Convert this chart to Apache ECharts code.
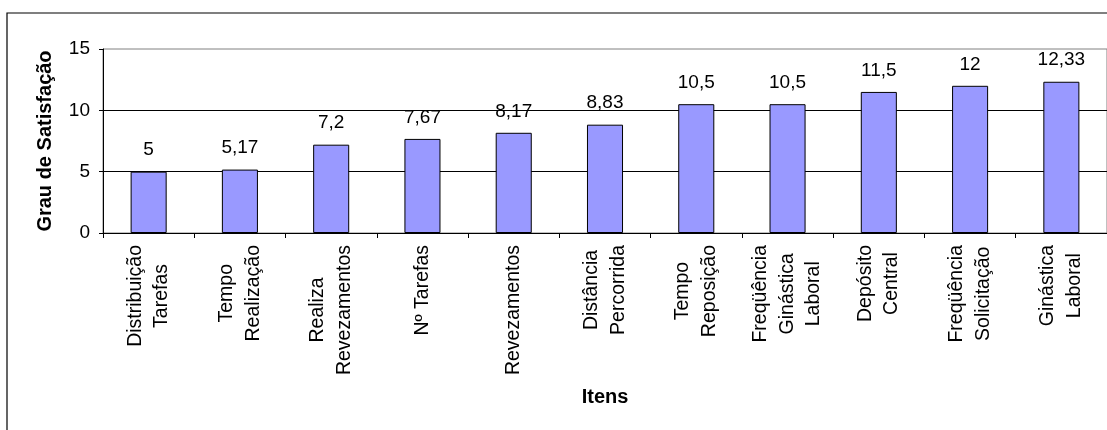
<!DOCTYPE html>
<html>
<head>
<meta charset="utf-8">
<script src="https://cdn.jsdelivr.net/npm/echarts@6/dist/echarts.min.js"></script>
<style>
  html, body { margin: 0; padding: 0; background: #fff; }
  #chart { width: 1107px; height: 430px; }
</style>
</head>
<body>
<div id="chart"></div>
<script>
// Items rated, with line breaks as they appear under the axis
const categories = [
  'Distribuição\nTarefas',
  'Tempo\nRealização',
  'Realiza\nRevezamentos',
  'Nº Tarefas',
  'Revezamentos',
  'Distância\nPercorrida',
  'Tempo\nReposição',
  'Freqüência\nGinástica\nLaboral',
  'Depósito\nCentral',
  'Freqüência\nSolicitação',
  'Ginástica\nLaboral'
];
const satisfaction = [5, 5.17, 7.2, 7.67, 8.17, 8.83, 10.5, 10.5, 11.5, 12, 12.33];
const yTicks = [0, 5, 10, 15];

const FONT = '"Liberation Sans", Arial, sans-serif';
const fmtNum = v => String(v).replace('.', ',');

const chart = echarts.init(document.getElementById('chart'), null, { renderer: 'canvas' });
chart.setOption({
  animation: false,
  backgroundColor: '#ffffff',
  textStyle: { fontFamily: FONT, color: '#000' },
  graphic: [{
    type: 'rect',
    shape: { x: 7, y: 13, width: 1200, height: 500 },
    style: { fill: 'none', stroke: '#000', lineWidth: 1.2 },
    silent: true,
    z: -1
  }],
  grid: {
    left: 103, right: -1.6, top: 49, bottom: 197,
    show: true, borderColor: '#808080', borderWidth: 1,
    backgroundColor: 'transparent'
  },
  xAxis: {
    type: 'category',
    data: categories,
    name: 'Itens',
    nameLocation: 'middle',
    nameGap: 154,
    nameTextStyle: { fontFamily: FONT, fontWeight: 'bold', fontSize: 20, color: '#000' },
    axisLine: { lineStyle: { color: '#000', width: 1 } },
    axisTick: { show: true, length: 5, alignWithLabel: false, lineStyle: { color: '#000' } },
    axisLabel: {
      rotate: 90,
      margin: 12,
      interval: 0,
      color: '#000',
      fontFamily: FONT,
      fontSize: 19.5,
      lineHeight: 26.5,
      formatter: v => v.split('\n').map(s => '{c|' + s + '}').join('\n'),
      rich: {
        c: { align: 'center', fontFamily: FONT, fontSize: 19.5, lineHeight: 26.5, color: '#000' }
      }
    }
  },
  yAxis: {
    type: 'value',
    min: yTicks[0],
    max: yTicks[yTicks.length - 1],
    interval: yTicks[1] - yTicks[0],
    name: 'Grau de Satisfação',
    nameLocation: 'middle',
    nameGap: 48,
    nameRotate: 90,
    nameTextStyle: { fontFamily: FONT, fontWeight: 'bold', fontSize: 20, color: '#000' },
    axisLine: { show: true, lineStyle: { color: '#000', width: 1 } },
    axisTick: { show: true, length: 4, lineStyle: { color: '#000' } },
    axisLabel: { margin: 13, color: '#000', fontFamily: FONT, fontSize: 19 },
    splitLine: { show: true, showMaxLine: false, lineStyle: { color: '#000', width: 1 } }
  },
  series: [{
    type: 'bar',
    data: satisfaction,
    barWidth: '39.5%',
    itemStyle: { color: '#9999FF', borderColor: '#000', borderWidth: 1 },
    label: {
      show: true,
      position: 'top',
      distance: 12,
      color: '#000',
      fontFamily: FONT,
      fontSize: 19,
      formatter: p => fmtNum(p.value)
    }
  }]
});
</script>
</body>
</html>
